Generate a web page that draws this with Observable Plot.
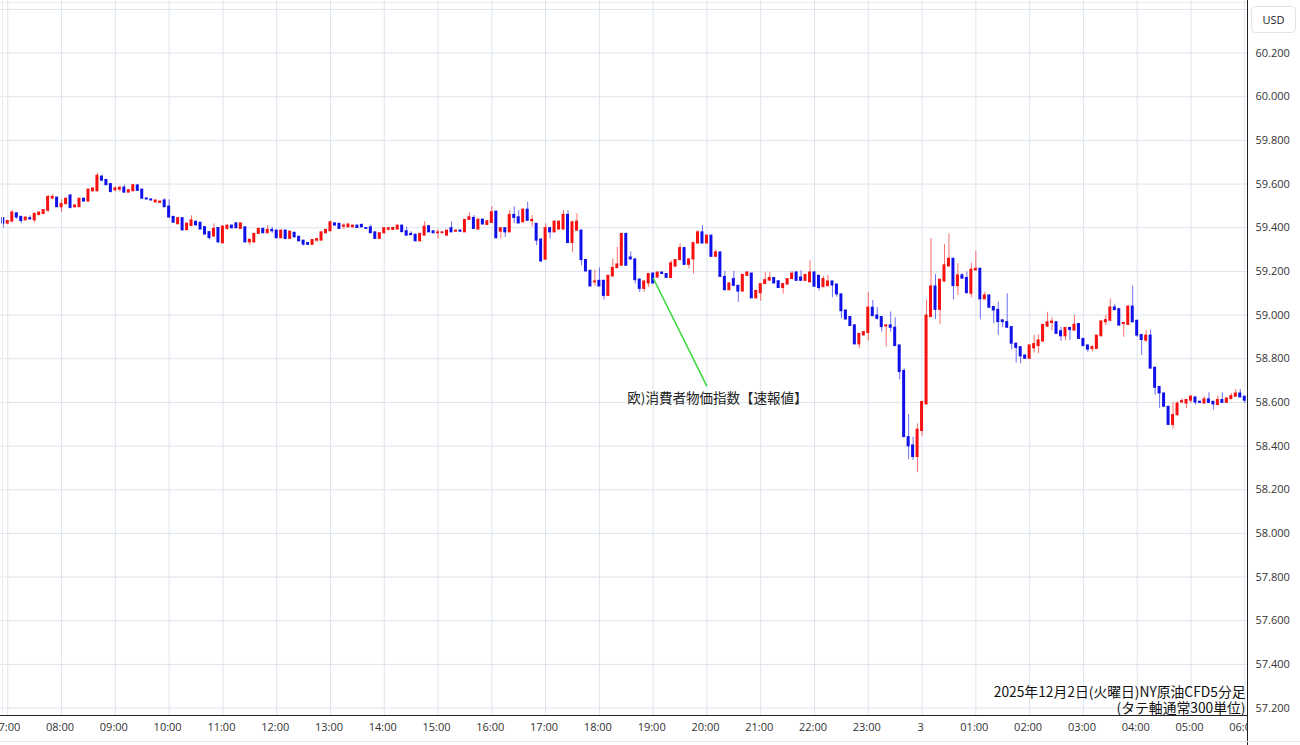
<!DOCTYPE html>
<html><head><meta charset="utf-8">
<script src="https://cdn.jsdelivr.net/npm/d3@7"></script>
<script src="https://cdn.jsdelivr.net/npm/@observablehq/plot@0.6"></script>
<style>
html,body{margin:0;padding:0;background:#fff;}
#chart{position:relative;width:1300px;height:745px;overflow:hidden;}
</style></head><body><div id="chart"></div>
<script>
// ---- data (5-minute candles, first bar 06:55) ----
const startTime = "2025-12-02T06:55:00Z";
const stepMinutes = 5;
const open = [
59.444,59.419,59.428,59.466,59.450,59.434,59.444,59.434,59.458,59.463,
59.478,59.534,59.538,59.494,59.509,59.548,59.494,59.494,59.533,59.520,
59.567,59.567,59.634,59.619,59.600,59.572,59.575,59.584,59.561,59.567,
59.594,59.575,59.534,59.530,59.516,59.514,59.525,59.497,59.450,59.416,
59.444,59.389,59.408,59.427,59.423,59.403,59.380,59.360,59.399,59.329,
59.395,59.410,59.420,59.395,59.402,59.333,59.333,59.372,59.395,59.375,
59.390,59.387,59.352,59.387,59.349,59.377,59.359,59.341,59.330,59.322,
59.341,59.341,59.375,59.384,59.420,59.418,59.405,59.402,59.402,59.410,
59.413,59.399,59.402,59.379,59.349,59.375,59.391,59.390,59.392,59.410,
59.384,59.372,59.368,59.338,59.364,59.407,59.384,59.375,59.375,59.364,
59.398,59.382,59.387,59.379,59.436,59.445,59.392,59.437,59.413,59.422,
59.474,59.382,59.398,59.379,59.459,59.448,59.425,59.483,59.430,59.418,
59.346,59.254,59.398,59.379,59.392,59.392,59.459,59.330,59.387,59.387,
59.252,59.203,59.150,59.157,59.157,59.088,59.177,59.215,59.226,59.372,
59.264,59.255,59.163,59.120,59.145,59.190,59.172,59.195,59.188,59.170,
59.222,59.252,59.307,59.230,59.255,59.328,59.379,59.328,59.364,59.267,
59.287,59.175,59.114,59.165,59.134,59.108,59.180,59.190,59.077,59.100,
59.142,59.158,59.170,59.155,59.124,59.140,59.165,59.195,59.172,59.157,
59.150,59.195,59.180,59.128,59.133,59.154,59.140,59.095,59.021,58.991,
58.953,58.866,58.907,58.918,59.034,58.998,58.991,58.948,58.953,58.942,
58.861,58.744,58.441,58.403,58.350,58.469,58.591,58.991,59.131,59.024,
59.154,59.223,59.258,59.133,59.182,59.170,59.098,59.205,59.212,59.072,
59.090,59.037,59.024,58.976,58.968,58.945,58.869,58.853,58.815,58.800,
58.848,58.858,58.879,58.947,58.964,58.967,58.926,58.903,58.941,58.929,
58.959,58.891,58.861,58.845,58.845,58.903,58.967,58.974,59.035,59.027,
58.959,58.955,59.039,58.974,58.909,58.883,58.906,58.759,58.671,58.641,
58.580,58.497,58.542,58.600,58.595,58.608,58.623,58.603,58.595,58.614,
58.603,58.588,58.611,58.598,58.615,58.626,58.641,58.626];
const high = [
59.444,59.431,59.478,59.470,59.452,59.447,59.455,59.470,59.470,59.481,
59.548,59.553,59.540,59.528,59.536,59.551,59.505,59.535,59.535,59.576,
59.582,59.650,59.642,59.621,59.602,59.588,59.591,59.595,59.573,59.598,
59.598,59.576,59.536,59.531,59.526,59.521,59.533,59.528,59.451,59.445,
59.445,59.420,59.455,59.434,59.424,59.404,59.381,59.418,59.400,59.410,
59.411,59.412,59.424,59.421,59.403,59.349,59.373,59.398,59.398,59.410,
59.402,59.388,59.389,59.389,59.384,59.379,59.360,59.342,59.331,59.345,
59.349,59.380,59.391,59.430,59.421,59.420,59.418,59.418,59.411,59.411,
59.418,59.400,59.413,59.380,59.377,59.400,59.401,59.401,59.411,59.411,
59.402,59.382,59.370,59.373,59.428,59.410,59.386,59.390,59.381,59.388,
59.428,59.390,59.390,59.437,59.468,59.456,59.440,59.440,59.432,59.497,
59.476,59.400,59.400,59.479,59.497,59.479,59.485,59.517,59.456,59.420,
59.350,59.418,59.400,59.433,59.430,59.480,59.479,59.430,59.464,59.390,
59.255,59.205,59.206,59.216,59.160,59.182,59.257,59.310,59.372,59.375,
59.290,59.257,59.165,59.157,59.190,59.195,59.196,59.197,59.190,59.249,
59.253,59.326,59.310,59.257,59.333,59.387,59.410,59.366,59.366,59.298,
59.290,59.200,59.146,59.200,59.136,59.186,59.200,59.192,59.113,59.145,
59.195,59.195,59.172,59.157,59.145,59.167,59.200,59.200,59.203,59.186,
59.249,59.200,59.182,59.177,59.182,59.156,59.142,59.097,59.023,58.993,
58.955,58.916,58.924,59.105,59.067,59.034,58.993,58.955,59.014,58.988,
58.863,58.754,58.544,58.441,58.502,58.602,59.070,59.350,59.186,59.162,
59.324,59.372,59.260,59.235,59.189,59.197,59.238,59.292,59.215,59.105,
59.092,59.040,59.060,58.978,59.098,58.947,58.871,58.855,58.817,58.862,
58.907,58.910,58.955,59.012,58.989,58.970,58.944,58.942,58.943,59.000,
58.961,58.893,58.863,58.861,58.908,58.972,59.000,59.073,59.050,59.029,
58.966,59.042,59.133,58.976,58.911,58.929,58.932,58.761,58.673,58.643,
58.582,58.598,58.603,58.618,58.612,58.633,58.625,58.606,58.626,58.644,
58.605,58.629,58.644,58.620,58.641,58.659,58.659,58.628];
const low = [
59.397,59.417,59.427,59.439,59.419,59.433,59.437,59.423,59.456,59.462,
59.470,59.528,59.494,59.470,59.502,59.486,59.489,59.493,59.520,59.519,
59.566,59.565,59.611,59.594,59.559,59.564,59.564,59.560,59.560,59.566,
59.569,59.533,59.525,59.524,59.515,59.512,59.494,59.444,59.423,59.415,
59.386,59.388,59.407,59.408,59.392,59.369,59.345,59.355,59.330,59.326,
59.388,59.395,59.397,59.394,59.331,59.318,59.330,59.370,59.372,59.374,
59.375,59.352,59.350,59.345,59.347,59.354,59.336,59.316,59.318,59.320,
59.333,59.340,59.372,59.383,59.409,59.392,59.390,59.401,59.400,59.398,
59.401,59.393,59.375,59.349,59.347,59.372,59.385,59.388,59.390,59.380,
59.362,59.365,59.336,59.336,59.362,59.378,59.372,59.349,59.374,59.362,
59.378,59.380,59.380,59.378,59.435,59.393,59.390,59.414,59.410,59.420,
59.350,59.349,59.356,59.378,59.420,59.418,59.422,59.430,59.402,59.318,
59.241,59.250,59.349,59.376,59.390,59.390,59.328,59.286,59.385,59.226,
59.198,59.130,59.131,59.130,59.069,59.086,59.175,59.214,59.225,59.225,
59.253,59.142,59.104,59.104,59.127,59.143,59.170,59.186,59.168,59.168,
59.220,59.250,59.228,59.211,59.188,59.326,59.326,59.326,59.265,59.265,
59.173,59.112,59.112,59.130,59.058,59.106,59.178,59.075,59.073,59.063,
59.140,59.155,59.143,59.122,59.096,59.138,59.163,59.155,59.155,59.155,
59.148,59.128,59.111,59.126,59.128,59.079,59.082,58.983,58.978,58.948,
58.864,58.846,58.905,58.881,58.994,58.976,58.922,58.853,58.922,58.856,
58.704,58.440,58.337,58.334,58.278,58.444,58.589,58.989,58.980,58.957,
59.150,59.220,59.070,59.090,59.165,59.095,59.079,59.200,58.979,59.070,
59.030,58.960,58.907,58.942,58.940,58.841,58.780,58.777,58.798,58.798,
58.826,58.823,58.877,58.945,58.929,58.912,58.880,58.883,58.883,58.927,
58.889,58.856,58.830,58.830,58.843,58.901,58.952,58.972,59.020,58.950,
58.898,58.952,58.965,58.898,58.815,58.876,58.753,58.633,58.573,58.578,
58.495,58.477,58.535,58.595,58.573,58.595,58.588,58.595,58.593,58.595,
58.565,58.586,58.596,58.596,58.613,58.624,58.621,58.595];
const close = [
59.419,59.431,59.470,59.447,59.431,59.447,59.438,59.463,59.470,59.481,
59.541,59.541,59.494,59.509,59.533,59.491,59.502,59.533,59.520,59.575,
59.580,59.638,59.616,59.595,59.564,59.580,59.583,59.561,59.572,59.595,
59.569,59.533,59.530,59.525,59.525,59.520,59.494,59.447,59.423,59.444,
59.388,59.419,59.434,59.411,59.392,59.369,59.353,59.395,59.333,59.405,
59.410,59.398,59.398,59.420,59.333,59.345,59.372,59.395,59.375,59.390,
59.384,59.352,59.387,59.349,59.382,59.356,59.338,59.323,59.322,59.344,
59.348,59.379,59.390,59.425,59.410,59.395,59.410,59.415,59.410,59.399,
59.402,59.395,59.375,59.349,59.375,59.398,59.398,59.399,59.410,59.380,
59.364,59.366,59.338,59.372,59.405,59.379,59.375,59.379,59.379,59.387,
59.379,59.387,59.382,59.436,59.448,59.395,59.437,59.415,59.430,59.471,
59.352,59.398,59.379,59.459,59.445,59.420,59.483,59.432,59.436,59.341,
59.246,59.398,59.379,59.428,59.428,59.459,59.330,59.425,59.428,59.252,
59.200,59.131,59.154,59.131,59.088,59.180,59.216,59.232,59.372,59.226,
59.255,59.160,59.120,59.154,59.188,59.145,59.195,59.188,59.170,59.237,
59.252,59.307,59.230,59.255,59.330,59.379,59.328,59.364,59.267,59.287,
59.175,59.114,59.145,59.134,59.108,59.184,59.195,59.077,59.111,59.142,
59.160,59.170,59.145,59.124,59.142,59.165,59.190,59.157,59.157,59.184,
59.195,59.130,59.124,59.165,59.154,59.136,59.095,59.018,58.980,58.950,
58.866,58.914,58.922,59.034,58.995,58.983,58.945,58.953,58.942,58.858,
58.739,58.441,58.399,58.350,58.475,58.602,58.998,59.131,59.024,59.162,
59.228,59.258,59.133,59.182,59.167,59.101,59.208,59.212,59.072,59.090,
59.034,59.021,58.968,58.968,58.942,58.869,58.850,58.811,58.800,58.861,
58.867,58.884,58.955,58.967,58.970,58.914,58.903,58.941,58.932,58.956,
58.891,58.858,58.842,58.853,58.906,58.971,58.977,59.035,59.023,58.952,
58.964,59.039,58.967,58.906,58.886,58.906,58.755,58.667,58.641,58.580,
58.497,58.542,58.595,58.606,58.611,58.626,58.600,58.598,58.614,58.598,
58.591,58.611,58.598,58.618,58.629,58.641,58.623,58.608];

const yTicks = [57.2,57.4,57.6,57.8,58.0,58.2,58.4,58.6,58.8,59.0,59.2,59.4,59.6,59.8,60.0,60.2];
const yGridLines = [57.2,57.4,57.6,57.8,58.0,58.2,58.4,58.6,58.8,59.0,59.2,59.4,59.6,59.8,60.0,60.2,60.4];
const firstTick = "2025-12-02T07:00:00Z";
const xTickLabels = ["07:00","08:00","09:00","10:00","11:00","12:00","13:00","14:00","15:00","16:00",
  "17:00","18:00","19:00","20:00","21:00","22:00","23:00","3","01:00","02:00","03:00","04:00","05:00","06:00"];
const xDomain = ["2025-12-02T06:51:52Z", "2025-12-03T06:03:04Z"];
const yDomain = [57.166, 60.441];
const unitLabel = "USD";
const noteText = "欧)消費者物価指数【速報値】";
const noteFrom = {t: "2025-12-02T19:00:00Z", p: 59.170};
const noteTo   = {t: "2025-12-02T20:00:00Z", p: 58.674};
const noteLabelAt = {t: "2025-12-02T20:11:40Z", p: 58.618};
const caption = "2025年12月2日(火曜日)NY原油CFD5分足\n(タテ軸通常300単位)";

// ---- build ----
const t0 = +new Date(startTime);
const candles = open.map((o, i) => ({
  t: new Date(t0 + i * stepMinutes * 60000), o, h: high[i], l: low[i], c: close[i]
}));
const tick0 = +new Date(firstTick);
const xTicks = xTickLabels.map((_, i) => new Date(tick0 + i * 3600000));
const labelMap = new Map(xTicks.map((d, i) => [+d, xTickLabels[i]]));
const UP = "#f71010", DOWN = "#1010ea";
const col = d => d.c >= d.o ? UP : DOWN;
const halfBody = 100000; // ms

const chart = Plot.plot({
  width: 1300, height: 745,
  marginTop: 0, marginRight: 53, marginBottom: 30, marginLeft: 0,
  style: {fontFamily: "'Open Sans', 'Noto Sans CJK JP', sans-serif", fontSize: "11px", color: "#333", background: "#fff"},
  x: {type: "utc", domain: xDomain.map(s => new Date(s))},
  y: {domain: yDomain},
  color: {type: "identity"},
  marks: [
    Plot.gridX(xTicks, {stroke: "#dde4ec", strokeOpacity: 1}),
    Plot.gridY(yGridLines, {stroke: "#dde4ec", strokeOpacity: 1}),
    Plot.axisX(xTicks, {tickSize: 0, tickPadding: 8, dx: -1.5, label: null, tickFormat: d => labelMap.get(+d)}),
    Plot.axisY(yTicks, {anchor: "right", tickSize: 0, tickPadding: 8, label: null, tickFormat: d3.format(".3f")}),
    Plot.ruleX(candles, {x: "t", y1: "l", y2: "h", stroke: col, strokeOpacity: 0.6, strokeWidth: 1}),
    Plot.rect(candles, {x1: d => new Date(+d.t - halfBody), x2: d => new Date(+d.t + halfBody),
      y1: "o", y2: "c", fill: col, insetTop: -0.5, insetBottom: -0.5}),
    Plot.link([0], {x1: () => new Date(noteFrom.t), y1: () => noteFrom.p,
      x2: () => new Date(noteTo.t), y2: () => noteTo.p, stroke: "#3fdc3f", strokeWidth: 1.6}),
    Plot.text([noteText], {x: () => new Date(noteLabelAt.t), y: () => noteLabelAt.p, text: d => d,
      fontFamily: "'Noto Sans CJK JP', sans-serif", fontSize: 13.5, fill: "#222"}),
    Plot.text([caption], {frameAnchor: "bottom-right", text: d => d, dx: -2, dy: -3, textAnchor: "end",
      lineAnchor: "bottom", lineHeight: 1.1, fontFamily: "'Noto Sans CJK JP', sans-serif", fontSize: 13.8, fill: "#111"}),
    Plot.frame({anchor: "bottom", stroke: "#222", strokeOpacity: 1}),
    Plot.frame({anchor: "right", stroke: "#222", strokeOpacity: 1})
  ]
});
document.getElementById("chart").appendChild(chart);

// ---- chrome around the plot ----
const svg = d3.select(chart);
svg.append("line").attr("x1", 0).attr("x2", 1247).attr("y1", 2.5).attr("y2", 2.5).attr("stroke", "#ececec");
svg.append("line").attr("x1", 2.5).attr("x2", 2.5).attr("y1", 0).attr("y2", 714).attr("stroke", "#ececec");
svg.append("rect").attr("x", 1247.5).attr("y", 715.5).attr("width", 53).attr("height", 30).attr("fill", "#fff");
svg.append("line").attr("x1", 1247.5).attr("x2", 1247.5).attr("y1", 0).attr("y2", 745).attr("stroke", "#222");
svg.append("line").attr("x1", 0).attr("x2", 1300).attr("y1", 741.5).attr("y2", 741.5).attr("stroke", "#e6e6e6");
svg.append("rect").attr("x", 1251.5).attr("y", 6.5).attr("width", 44).attr("height", 26).attr("rx", 4)
  .attr("fill", "#fff").attr("stroke", "#e2e2e2");
svg.append("text").attr("x", 1273.5).attr("y", 19.5).attr("text-anchor", "middle").attr("dominant-baseline", "central")
  .attr("font-size", 11).attr("fill", "#222").text(unitLabel);
</script></body></html>
